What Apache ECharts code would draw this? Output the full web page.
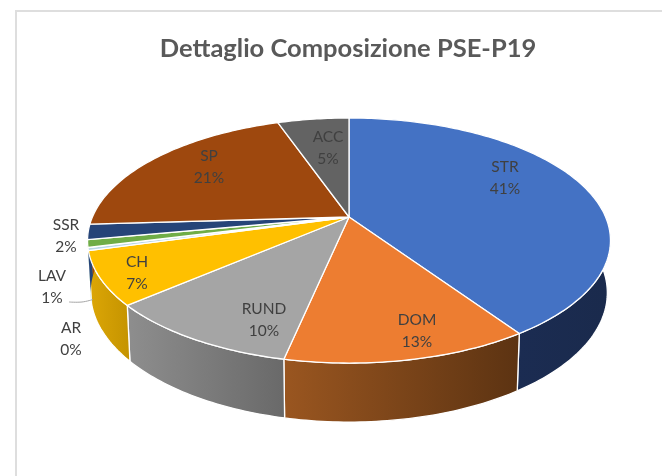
<!DOCTYPE html>
<html><head><meta charset="utf-8">
<style>html,body{margin:0;padding:0;background:#fff}#c{width:662px;height:476px}</style>
<script src="https://cdn.jsdelivr.net/npm/echarts@6/dist/echarts.min.js"></script>
</head><body><div id="c"></div>
<script>
// ---- data ----
const titleText = 'Dettaglio Composizione PSE-P19';
const categories = ['STR','DOM','RUND','CH','AR','LAV','SSR','SP','ACC'];
const values = [40.5,12.7,10.3,7.0,0.4,1.0,2.0,20.6,5.3];
// ---- styles / layout ----
const topColors = ['#4472C4','#ED7D31','#A5A5A5','#FFC000','#B9D7E6','#70AD47','#264478','#9E480E','#636363'];
const wallColors = [['#1B2C52','#1A2A4C'],['#9A5620','#5C3312'],['#8E8E8E','#696969'],['#DDA706','#C49300'],['#B9D7E6','#B9D7E6'],['#70AD47','#70AD47'],['#264478','#264478'],['#9E480E','#9E480E'],['#636363','#636363']];
const labelAt = {STR:[505,178],DOM:[417,331],RUND:[264,320],CH:[137,273],AR:[71,339],LAV:[52,287],SSR:[66,236],SP:[209,167],ACC:[328,148]};
const CX=349, CY=217, A=256.6, B=118, K=0.192;
const total = values.reduce((a,b)=>a+b,0);
const spans = []; let acc=0;
values.forEach(v=>{spans.push([acc/total,(acc+v)/total]);acc+=v;});

function topPt(f,r){ r=r==null?1:r;
  const t=f*2*Math.PI, u=Math.sin(t)*r, v=-Math.cos(t)*r, w=1-K*v;
  return [CX+A*u/w, CY+B*v/w];
}
function botPt(f){ const p=topPt(f);
  return [CX+(p[0]-CX)*0.988, CY+51+(p[1]-CY)*1.055];
}
function arc(fn,a,b){ const n=Math.max(2,Math.ceil((b-a)*360)); const o=[];
  for(let i=0;i<=n;i++) o.push(fn(a+(b-a)*i/n)); return o; }

function wallItem(params){
  const i=params.dataIndex; let a=spans[i][0], b=spans[i][1];
  const lo=0.2, hi=0.78;
  a=Math.max(a,lo); b=Math.min(b,hi);
  if(b<=a) return {type:'group',children:[]};
  const pts=arc(topPt,a,b).concat(arc(botPt,a,b).reverse());
  return {type:'polygon',shape:{points:pts},style:{
    fill:new echarts.graphic.LinearGradient(0,0,1,0,[{offset:0,color:wallColors[i][0]},{offset:1,color:wallColors[i][1]}]),
    stroke:'#fff',lineWidth:i<=3?1.3:0}};
}
function topItem(params){
  const i=params.dataIndex, a=spans[i][0], b=spans[i][1];
  const pts=[[CX,CY]].concat(arc(topPt,a,b));
  return {type:'polygon',shape:{points:pts},style:{fill:topColors[i],stroke:'#fff',lineWidth:1.3,lineJoin:'round'}};
}
function labelItem(params){
  const i=params.dataIndex, name=categories[i], p=labelAt[name];
  const pct=Math.round(values[i]/total*100)+'%';
  return {type:'text',x:p[0],y:p[1],style:{text:name+'\n'+pct,align:'center',verticalAlign:'middle',
    fontFamily:'Lato',fontSize:15.5,lineHeight:22,fill:'#404040'}};
}
const rows=categories.map((c,i)=>({name:c,value:values[i]}));
const chart=echarts.init(document.getElementById('c'),null,{renderer:'canvas'});
chart.setOption({
  animation:false,
  backgroundColor:'#fff',
  title:{text:titleText,left:343,top:31,textAlign:'center',textStyle:{fontFamily:'Lato',fontWeight:'bold',fontSize:25.5,color:'#595959'}},
  tooltip:{show:false},
  graphic:[
    {type:'polyline',shape:{points:[[16,476],[16,11],[662,11]]},style:{stroke:'#DEDEDE',lineWidth:2,fill:null},silent:true},
    {type:'polyline',shape:{points:[[69,302],[82,302],[93,299.5]],smooth:0.4},style:{stroke:'#A6A6A6',lineWidth:1,fill:null},z:10,silent:true}
  ],
  series:[
    {type:'custom',coordinateSystem:'none',renderItem:wallItem,data:rows,z:2,silent:true},
    {type:'custom',coordinateSystem:'none',renderItem:topItem,data:rows,z:3,silent:true},
    {type:'custom',coordinateSystem:'none',renderItem:labelItem,data:rows,z:4,silent:true}
  ]
});
</script></body></html>
